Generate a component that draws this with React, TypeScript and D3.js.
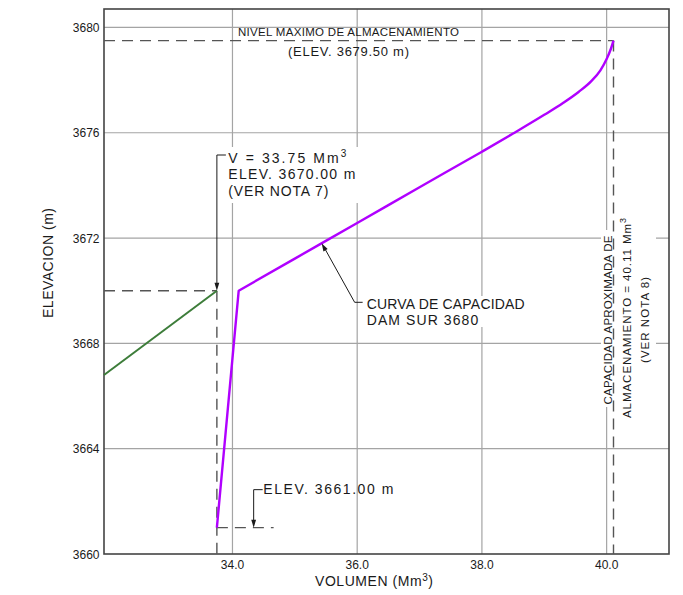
import React from 'react';
import * as d3 from 'd3';

const W = 683;
const H = 595;

// Axes
const xDomain = [31.94, 41.0];
const yDomain = [3660, 3680.7];
const xTicks = [34, 36, 38, 40];
const xTickLabels = ['34.0', '36.0', '38.0', '40.0'];
const yTicks = [3660, 3664, 3668, 3672, 3676, 3680];
const yTickLabels = ['3660', '3664', '3668', '3672', '3676', '3680'];

// Capacity curve DAM SUR 3680 (volume Mm3, elevation m)
const capacityVolume = [33.75, 34.1, 35.0, 36.0, 37.0, 38.0, 38.5, 39.0, 39.3, 39.55, 39.75, 39.9, 40.0, 40.07, 40.11];
const capacityElevation = [3661.0, 3670.0, 3671.22, 3672.57, 3673.93, 3675.28, 3675.97, 3676.68, 3677.13, 3677.55, 3677.95, 3678.37, 3678.8, 3679.2, 3679.5];

// Existing (green) curve
const priorVolume = [31.94, 33.75];
const priorElevation = [3666.8, 3670.0];

// Reference values
const maxLevelElevation = 3679.5;
const maxLevelVolume = 40.11;
const startVolume = 33.75;
const startElevation = 3670.0;
const minElevation = 3661.0;
const minMarkEndVolume = 34.66;
const minArrowVolume = 34.34;
const curveArrowVolume = 35.43;

const FONT = '"Liberation Sans", Arial, sans-serif';
const INK = '#1a1a1a';

function arrowHead(tipX: number, tipY: number, fromX: number, fromY: number, len = 8, half = 2.4) {
  const dx = tipX - fromX;
  const dy = tipY - fromY;
  const d = Math.hypot(dx, dy) || 1;
  const ux = dx / d;
  const uy = dy / d;
  const bx = tipX - ux * len;
  const by = tipY - uy * len;
  return `M${tipX},${tipY}L${bx - uy * half},${by + ux * half}L${bx + uy * half},${by - ux * half}Z`;
}

export default function App() {
  const x = d3.scaleLinear().domain(xDomain).range([104, 669]);
  const y = d3.scaleLinear().domain(yDomain).range([554, 9]);
  const [x0, x1] = x.range();
  const [yb, yt] = y.range();

  const pts: [number, number][] = capacityVolume.map((v, i) => [v, capacityElevation[i]]);
  const lin = d3.line<[number, number]>().x((d) => x(d[0])).y((d) => y(d[1]));
  const smooth = d3
    .line<[number, number]>()
    .x((d) => x(d[0]))
    .y((d) => y(d[1]))
    .curve(d3.curveMonotoneX);
  const capPath = (lin(pts.slice(0, 2)) || '') + (smooth(pts.slice(1)) || '').replace(/^M/, 'L');
  const priorPts: [number, number][] = priorVolume.map((v, i) => [v, priorElevation[i]]);
  const priorPath = lin(priorPts) || '';

  const interp = d3.scaleLinear().domain(capacityVolume).range(capacityElevation);
  const cax = x(curveArrowVolume);
  const cay = y(interp(curveArrowVolume));
  const cLeadX = cax + 33;
  const cLeadY = cay + 59;

  const vx = x(startVolume);
  const vy = y(startElevation);
  const vTop = 155;

  const mx = x(minArrowVolume);
  const my = y(minElevation);
  const mTop = my - 38;

  const dash = '11,7';
  const dashColor = '#555';

  return (
    <svg width={W} height={H} style={{ position: 'absolute', left: 0, top: 0, background: '#fff' }} fontFamily={FONT}>
      <rect x={0} y={0} width={W} height={H} fill="#fff" />
      {/* grid */}
      {xTicks.map((t) => (
        <line key={'gx' + t} x1={x(t)} x2={x(t)} y1={yt} y2={yb} stroke="#a4a4a4" strokeWidth={1.2} />
      ))}
      {yTicks.slice(1).map((t) => (
        <line key={'gy' + t} x1={x0} x2={x1} y1={y(t)} y2={y(t)} stroke="#a4a4a4" strokeWidth={1.2} />
      ))}
      {/* masks behind annotation text */}
      <rect x={221} y={147} width={138} height={56} fill="#fff" />
      <rect x={364} y={296} width={166} height={31} fill="#fff" />
      <rect x={601} y={230} width={55} height={177} fill="#fff" />

      {/* frame */}
      <rect x={x0} y={yt} width={x1 - x0} height={yb - yt} fill="none" stroke="#444" strokeWidth={1.6} />

      {/* dashed reference lines */}
      <g stroke={dashColor} strokeWidth={1.4} strokeDasharray={dash} fill="none">
        <line x1={x0} x2={x(maxLevelVolume)} y1={y(maxLevelElevation)} y2={y(maxLevelElevation)} />
        <line x1={x(maxLevelVolume)} x2={x(maxLevelVolume)} y1={y(maxLevelElevation)} y2={yb} />
        <line x1={x0} x2={vx} y1={vy} y2={vy} />
        <line x1={vx} x2={vx} y1={vy} y2={yb} />
        <line x1={vx} x2={x(minMarkEndVolume)} y1={my} y2={my} />
      </g>

      {/* curves */}
      <path d={priorPath} fill="none" stroke="#3d7d3a" strokeWidth={2} />
      <path d={capPath} fill="none" stroke="#b000ff" strokeWidth={2.4} strokeLinejoin="round" />

      {/* leaders */}
      <g stroke={INK} strokeWidth={1} fill="none">
        <polyline points={`${vx + 9},${vTop} ${vx},${vTop} ${vx},${vy - 6}`} />
        <polyline points={`${mx + 9},${mTop} ${mx},${mTop} ${mx},${my - 6}`} />
        <polyline points={`${cax + 3},${cay + 5} ${cLeadX},${cLeadY} ${cLeadX + 8},${cLeadY}`} />
      </g>
      <g fill={INK}>
        <path d={arrowHead(vx, vy, vx, vTop)} />
        <path d={arrowHead(mx, my, mx, mTop)} />
        <path d={arrowHead(cax, cay, cLeadX, cLeadY)} />
      </g>

      {/* tick labels */}
      <g fill={INK} fontSize={12}>
        {xTicks.map((t, i) => (
          <text key={'tx' + t} x={x(t)} y={569} textAnchor="middle">
            {xTickLabels[i]}
          </text>
        ))}
        {yTicks.map((t, i) => (
          <text key={'ty' + t} x={99.5} y={y(t) + 4.5} textAnchor="end">
            {yTickLabels[i]}
          </text>
        ))}
      </g>

      {/* axis titles */}
      <text x={374} y={586} textAnchor="middle" fontSize={14} fill={INK} textLength={118} lengthAdjust="spacing">
        VOLUMEN (Mm<tspan dy={-5} fontSize={10}>3</tspan>
        <tspan dy={5}>)</tspan>
      </text>
      <text transform="translate(53.3,263) rotate(-90)" textAnchor="middle" fontSize={14} fill={INK} textLength={110} lengthAdjust="spacing">
        ELEVACION (m)
      </text>

      {/* annotations */}
      <g fill={INK}>
        <text x={348.5} y={36} textAnchor="middle" fontSize={11.5} textLength={221} lengthAdjust="spacing">
          NIVEL MAXIMO DE ALMACENAMIENTO
        </text>
        <text x={348.5} y={56} textAnchor="middle" fontSize={13} textLength={121} lengthAdjust="spacing">
          (ELEV. 3679.50 m)
        </text>

        <text x={228.3} y={162.7} fontSize={14} textLength={118} lengthAdjust="spacing">
          V = 33.75 Mm<tspan dy={-6} fontSize={10}>3</tspan>
        </text>
        <text x={228.3} y={179} fontSize={14} textLength={127} lengthAdjust="spacing">
          ELEV. 3670.00 m
        </text>
        <text x={228.3} y={196} fontSize={14} textLength={100} lengthAdjust="spacing">
          (VER NOTA 7)
        </text>

        <text x={366.7} y={309.3} fontSize={14} textLength={158} lengthAdjust="spacing">
          CURVA DE CAPACIDAD
        </text>
        <text x={366.7} y={325} fontSize={14} textLength={111.6} lengthAdjust="spacing">
          DAM SUR 3680
        </text>

        <text x={263.3} y={494} fontSize={14} textLength={130} lengthAdjust="spacing">
          ELEV. 3661.00 m
        </text>

        <text transform="translate(611.5,320) rotate(-90)" textAnchor="middle" fontSize={11.5} textLength={169} lengthAdjust="spacing">
          CAPACIDAD APROXIMADA DE
        </text>
        <text transform="translate(630.5,318) rotate(-90)" textAnchor="middle" fontSize={11.5} textLength={200} lengthAdjust="spacing">
          ALMACENAMIENTO = 40.11 Mm<tspan dy={-5} fontSize={9}>3</tspan>
        </text>
        <text transform="translate(649,320) rotate(-90)" textAnchor="middle" fontSize={11.5} textLength={86} lengthAdjust="spacing">
          (VER NOTA 8)
        </text>
      </g>
    </svg>
  );
}
